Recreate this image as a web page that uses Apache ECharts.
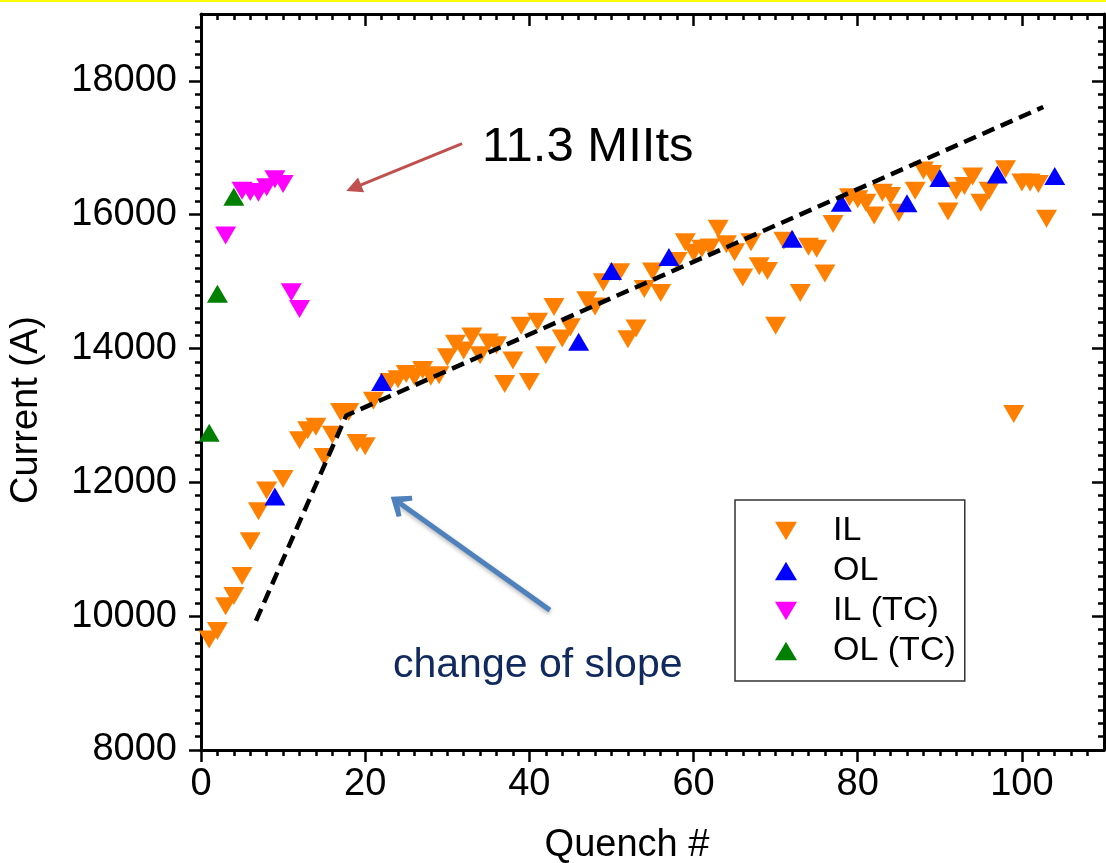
<!DOCTYPE html>
<html>
<head>
<meta charset="utf-8">
<title>Quench current</title>
<script src="https://cdn.jsdelivr.net/npm/echarts@6/dist/echarts.min.js"></script>
<style>
    html, body { margin: 0; padding: 0; background: #fff; }
    #chart { width: 1106px; height: 863px; }
</style>
</head>
<body>
<div id="chart"></div>
<script>
// tick labels
var xTicks = [0, 20, 40, 60, 80, 100];
var yTicks = [8000, 10000, 12000, 14000, 16000, 18000];

// [quench #, current (A)]
var IL = [[1, 9650], [2, 9780], [3, 10150], [4, 10300], [5, 10600], [6, 11120], [7, 11570], [8, 11880],
    [10, 12050], [12, 12630], [13, 12780], [14, 12830], [15, 12380], [16, 12710], [17, 13050], [18, 13050],
    [19, 12590], [20, 12540], [21, 13220], [23, 13500], [24, 13540], [25, 13620], [26, 13580], [27, 13680],
    [28, 13580], [29, 13600], [30, 13870], [31, 14070], [32, 13970], [33, 14180], [34, 13900], [35, 14090],
    [36, 14050], [37, 13470], [38, 13820], [39, 14340], [40, 13500], [41, 14400], [42, 13900], [43, 14620],
    [44, 14150], [45, 14320], [47, 14720], [48, 14630], [49, 14990], [51, 15140], [52, 14140], [53, 14300],
    [54, 14890], [55, 15150], [56, 14830], [58, 15310], [59, 15590], [60, 15430], [61, 15490], [62, 15510],
    [63, 15790], [64, 15560], [65, 15440], [66, 15060], [67, 15590], [68, 15230], [69, 15160], [70, 14340],
    [71, 15610], [73, 14830], [74, 15520], [75, 15490], [76, 15120], [77, 15860], [79, 16260], [80, 16230],
    [81, 16180], [82, 15990], [83, 16330], [84, 16280], [85, 16030], [87, 16360], [88, 16660], [89, 16610],
    [91, 16050], [92, 16360], [93, 16430], [94, 16570], [95, 16180], [96, 16360], [98, 16680], [99, 13020],
    [100, 16480], [101, 16480], [102, 16460], [103, 15940]];
var OL = [[9, 11790], [22, 13500], [46, 14100], [50, 15160], [57, 15370], [72, 15640], [78, 16180],
    [86, 16170], [90, 16550], [97, 16600], [104, 16580]];
var IL_TC = [[3, 15690], [5, 16360], [6, 16340], [7, 16330], [8, 16410], [9, 16530], [10, 16460],
    [11, 14840], [12, 14590]];
var OL_TC = [[1, 12740], [2, 14820], [4, 16270]];

// dashed slope guide
var slopeLine = [[6.7, 9930], [17.7, 13000], [102.6, 17610]];

// arrows: [tail, head]
var redArrow = [[31.8, 17064], [18.6, 16400]];
var blueArrow = [[42.5, 10090], [24.1, 11700]];

var font = "'Liberation Sans', Arial, sans-serif";
var downTri = 'path://M0,0L20,0L10,17Z';
var upTri = 'path://M10,0L20,17L0,17Z';
var chevron = 'path://M10,0L21,15L18,18L10,9L2,18L-1,15Z';

var chart = echarts.init(document.getElementById('chart'));

function xAxisCfg(pos) {
    var top = pos === 'top';
    return {
        type: 'value', position: pos, min: 0, max: 110, interval: 20,
        axisLine: { onZero: false, lineStyle: { color: '#000', width: 3 } },
        axisTick: { show: true, inside: top, length: 12, customValues: xTicks, lineStyle: { color: '#000', width: 2.5 } },
        minorTick: { show: true, splitNumber: 10, length: 6, lineStyle: { color: '#000', width: 2.5 } },
        axisLabel: { show: !top, customValues: xTicks, margin: 16, fontSize: 38, color: '#000', fontFamily: font },
        splitLine: { show: false }
    };
}
function yAxisCfg(pos) {
    var right = pos === 'right';
    return {
        type: 'value', position: pos, min: 8000, max: 19000, interval: 2000,
        axisLine: { onZero: false, lineStyle: { color: '#000', width: 3 } },
        axisTick: { show: true, inside: right, length: 12, customValues: yTicks, lineStyle: { color: '#000', width: 2.5 } },
        minorTick: { show: true, splitNumber: 10, length: 6, lineStyle: { color: '#000', width: 2.5 } },
        axisLabel: {
            show: !right, customValues: yTicks, margin: 24, fontSize: 38, color: '#000', fontFamily: font,
            formatter: function (v) { return String(v); }
        },
        splitLine: { show: false }
    };
}

function scatter(name, data, symbol, color) {
    return {
        name: name, type: 'scatter', data: data, symbol: symbol, symbolSize: [21, 18],
        itemStyle: { color: color, opacity: 1 },
        emphasis: { disabled: true }
    };
}

var option = {
    backgroundColor: '#fff',
    animation: false,
    grid: { left: 201, right: 2, top: 14, bottom: 113 },
    xAxis: [xAxisCfg('bottom'), xAxisCfg('top')],
    yAxis: [yAxisCfg('left'), yAxisCfg('right')],
    legend: {
        data: ['IL', 'OL', 'IL (TC)', 'OL (TC)'],
        orient: 'vertical', left: 735, top: 500,
        itemWidth: 22, itemHeight: 19, itemGap: 6,
        padding: [14, 9, 13, 40],
        borderColor: '#333', borderWidth: 1.5,
        selectedMode: false,
        textStyle: { fontSize: 34, lineHeight: 34, color: '#000', fontFamily: font, padding: [0, 0, 0, 31] }
    },
    graphic: [
        { type: 'rect', left: 0, top: 0, shape: { width: 1106, height: 2 }, style: { fill: '#ffff00' } },
        { type: 'text', x: 482, y: 147, style: { text: '11.3 MIIts', font: '49px ' + font, fill: '#000', textVerticalAlign: 'middle' } },
        { type: 'text', x: 393, y: 666, style: { text: 'change of slope', font: '41px ' + font, fill: '#10295f', textVerticalAlign: 'middle' } },
        { type: 'text', x: 627, y: 846, style: { text: 'Quench #', font: '38px ' + font, fill: '#000', textAlign: 'center', textVerticalAlign: 'middle' } },
        { type: 'text', x: 27, y: 410, rotation: Math.PI / 2, style: { text: 'Current (A)', font: '38px ' + font, fill: '#000', textAlign: 'center', textVerticalAlign: 'middle' } }
    ],
    series: [
        scatter('IL', IL, downTri, '#ff8000'),
        scatter('OL', OL, upTri, '#0000ff'),
        scatter('IL (TC)', IL_TC, downTri, '#ff00ff'),
        scatter('OL (TC)', OL_TC, upTri, '#008000'),
        {
            name: 'slope', type: 'line', data: slopeLine, symbol: 'none',
            lineStyle: { color: '#000', width: 4.5, type: [13, 7] },
            emphasis: { disabled: true },
            markLine: {
                silent: true, animation: false,
                label: { show: false },
                symbol: ['none', 'triangle'],
                lineStyle: { type: 'solid' },
                data: [
                    [
                        { coord: redArrow[0], lineStyle: { color: '#c0504d', width: 3, type: 'solid' } },
                        { coord: redArrow[1], symbol: 'triangle', symbolSize: [16, 16] }
                    ],
                    [
                        { coord: blueArrow[0], lineStyle: { color: '#4f81bd', width: 5, type: 'solid', shadowBlur: 4, shadowColor: 'rgba(0,0,0,0.3)', shadowOffsetY: 2 } },
                        { coord: blueArrow[1], symbol: chevron, symbolSize: [26, 20] }
                    ]
                ]
            }
        }
    ]
};

chart.setOption(option);
</script>
</body>
</html>
